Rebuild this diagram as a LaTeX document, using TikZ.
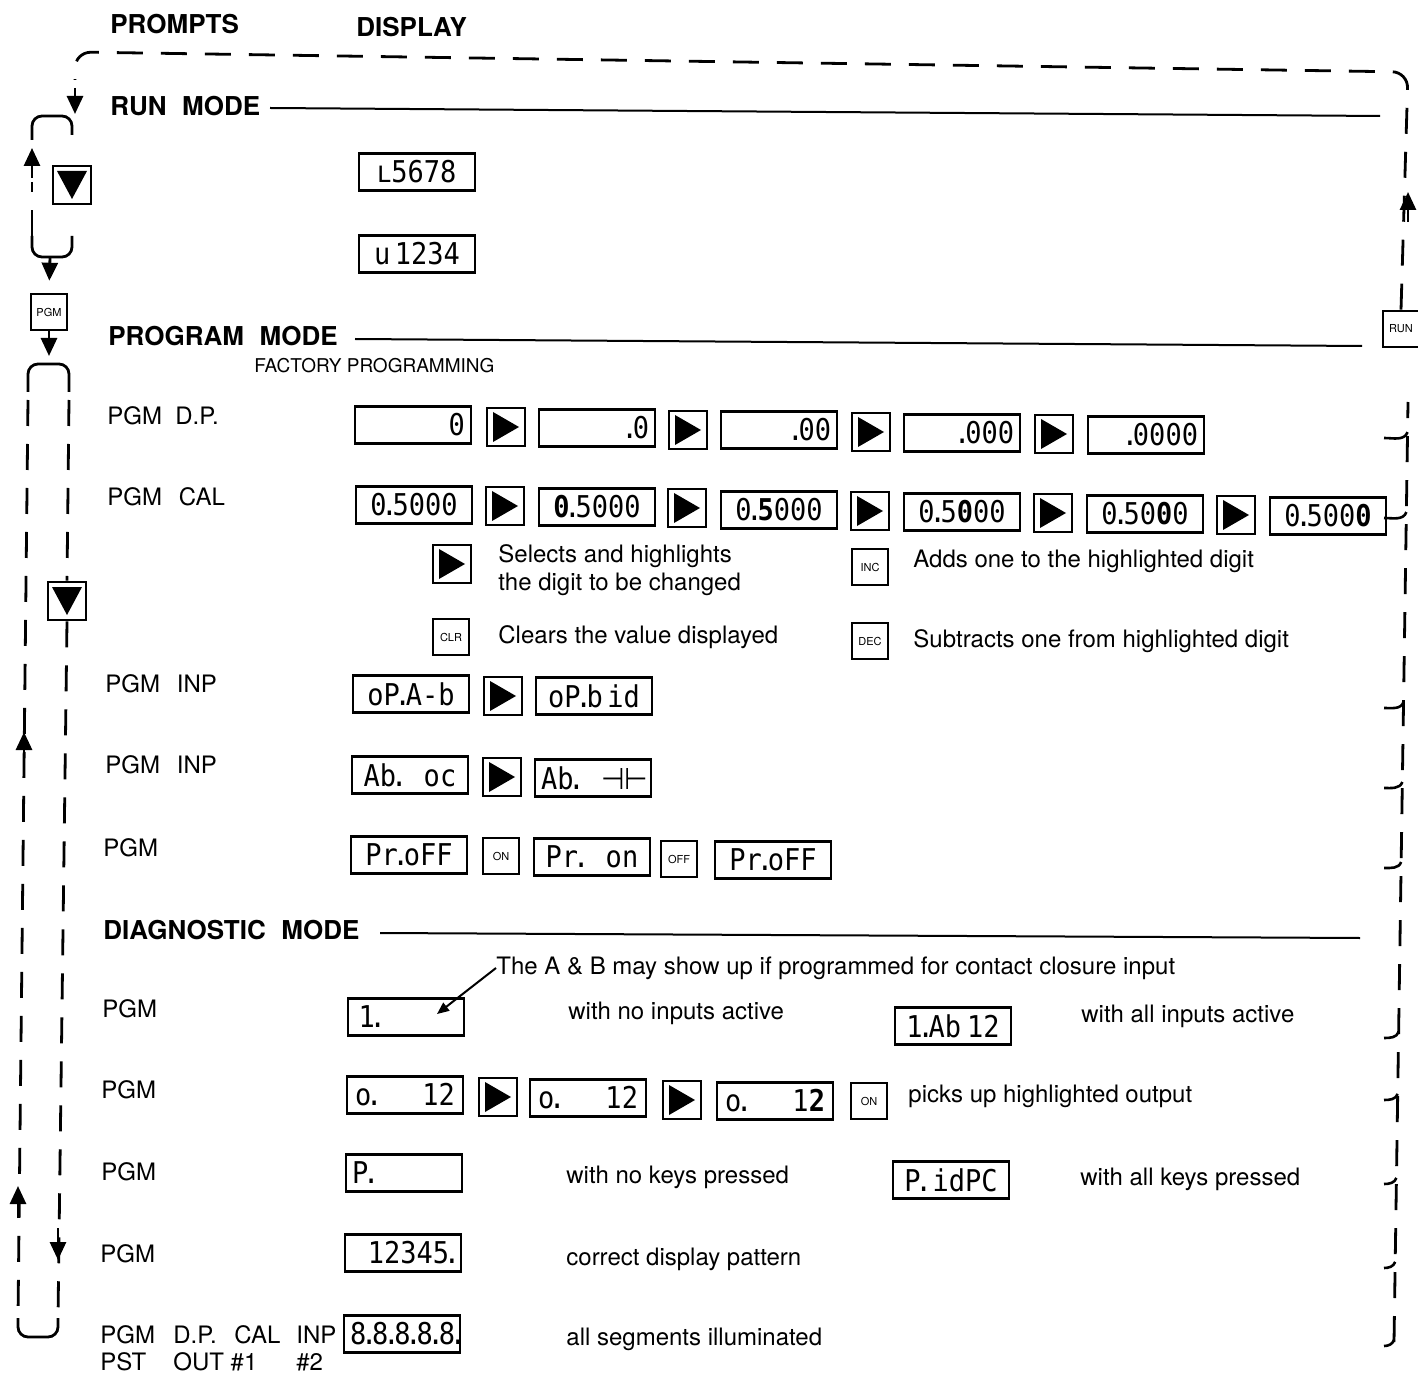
\documentclass[tikz,border=0pt]{standalone}
\usepackage{fontspec}
\setmainfont{TeX Gyre Heros}
\newfontfamily\dispfont{DejaVu Sans Mono}
\newfontfamily\glyphfont{DejaVu Sans}
\usetikzlibrary{arrows.meta,calc,positioning}

% display digits, highlighted digit, narrow decimal point
\newcommand\sd[1]{\scalebox{0.9}[1]{\dispfont\fontsize{15}{15}\selectfont #1}}
\newcommand\hl[1]{\textbf{#1}}
\newcommand\dd{\makebox[0.22em][c]{.}}
% key symbols
\newcommand\rtri{\tikz\fill (0pt,0pt) -- (0pt,15pt) -- (13pt,7.5pt) -- cycle;}
\newcommand\dtri{\tikz\fill (0pt,0pt) -- (15pt,0pt) -- (7.5pt,-14pt) -- cycle;}

\tikzset{
  disp/.style={draw, line width=1.4pt, minimum width=58pt, minimum height=18.5pt,
    inner sep=2pt, text width=52pt, align=center},
  keybox/.style={draw, line width=1.3pt, minimum size=19pt, inner sep=0pt},
  smallkey/.style={keybox, minimum size=18pt, font=\fontsize{5.5}{6}\selectfont},
  head/.style={anchor=west, inner sep=0pt, font=\fontsize{13}{15}\selectfont\bfseries},
  lbl/.style={anchor=west, inner sep=0pt, font=\fontsize{12}{14}\selectfont},
  note/.style={anchor=west, inner sep=0pt, font=\fontsize{12}{14}\selectfont, align=left},
  rule/.style={line width=1pt},
  flowline/.style={line width=1.4pt, dash pattern=on 13pt off 9pt},
  bracket/.style={line width=1.4pt, rounded corners=5pt},
  arr/.style={line width=1.4pt, -{Triangle[length=9pt,width=8pt]}},
  hook/.style={line width=1.3pt},
}

\begin{document}
\begin{tikzpicture}[x=0.5pt,y=-0.5pt]
\useasboundingbox (0,0) rectangle (1418,1379);

% titles and mode headings
\node[head] (prompts) at (110,24) {PROMPTS};
\node[head] (display) at (356,27) {DISPLAY};
\node[head] (runmode) at (110,106) {RUN\hspace{0.6em}MODE};
\draw[rule] (270,108) -- (1380,116);
\node[head] (pgmmode) at (108,336) {PROGRAM\hspace{0.6em}MODE};
\draw[rule] (355,339) -- (1362,346);
\node[anchor=west, inner sep=0pt, font=\fontsize{9.5}{11}\selectfont] (factory) at (254,366) {FACTORY PROGRAMMING};
\node[head] (diagmode) at (103,930) {DIAGNOSTIC\hspace{0.6em}MODE};
\draw[rule] (380,933) -- (1360,938);

% run mode
\node[disp] (dlow) at (417,172) {\sd{{\glyphfont ʟ}5678}};
\node[disp] (dhigh) at (417,254) {\sd{u\,1234}};

% program mode: decimal point
\node[lbl] (lbldp) at (107,416) {PGM\hspace{0.55em}D.P.};
\node[disp, align=right] (dp0) at (413,425) {\sd{0}};
\node[keybox] (dpk1) at (506,427) {\rtri};
\node[disp, align=right] (dp1) at (597,428) {\sd{\dd 0}};
\node[keybox] (dpk2) at (688,430) {\rtri};
\node[disp, align=right] (dp2) at (779,430) {\sd{\dd 00}};
\node[keybox] (dpk3) at (871,432) {\rtri};
\node[disp, align=right] (dp3) at (962,433) {\sd{\dd 000}};
\node[keybox] (dpk4) at (1054,434) {\rtri};
\node[disp, align=right] (dp4) at (1146,435) {\sd{\dd 0000}};

% program mode: calibration
\node[lbl] (lblcal) at (107,497) {PGM\hspace{0.7em}CAL};
\node[disp] (cal0) at (414,505) {\sd{0\dd 5000}};
\node[keybox] (calk1) at (505,506) {\rtri};
\node[disp] (cal1) at (597,507) {\sd{\hl{0}\dd 5000}};
\node[keybox] (calk2) at (687,508) {\rtri};
\node[disp] (cal2) at (779,510) {\sd{0\dd\hl{5}000}};
\node[keybox] (calk3) at (870,511) {\rtri};
\node[disp] (cal3) at (962,512) {\sd{0\dd 5\hl{0}00}};
\node[keybox] (calk4) at (1053,513) {\rtri};
\node[disp] (cal4) at (1145,514) {\sd{0\dd 50\hl{0}0}};
\node[keybox] (calk5) at (1236,515) {\rtri};
\node[disp] (cal5) at (1328,516) {\sd{0\dd 500\hl{0}}};

% key legend
\node[keybox] (legsel) at (452,564) {\rtri};
\node[note] (txtsel) at (498,570) {Selects and highlights\\the digit to be changed};
\node[smallkey] (leginc) at (870,567) {INC};
\node[note] (txtinc) at (913,561) {Adds one to the highlighted digit};
\node[smallkey] (legclr) at (451,637) {CLR};
\node[note] (txtclr) at (498,637) {Clears the value displayed};
\node[smallkey] (legdec) at (870,641) {DEC};
\node[note] (txtdec) at (913,641) {Subtracts one from highlighted digit};

% program mode: inputs
\node[lbl] (lblinp1) at (105,684) {PGM\hspace{0.7em}INP};
\node[disp] (inpa) at (411,694) {\sd{oP\dd A-b}};
\node[keybox] (inpk1) at (503,696) {\rtri};
\node[disp] (inpb) at (594,696) {\sd{oP\dd b\,id}};
\node[lbl] (lblinp2) at (105,765) {PGM\hspace{0.7em}INP};
\node[disp] (abo) at (410,775) {\sd{Ab\dd\hspace{0.8em}oc}};
\node[keybox] (inpk2) at (502,777) {\rtri};
\node[disp] (abc) at (593,778) {\sd{Ab\dd\hspace{0.8em}{\glyphfont ⊣⊢}}};

% program mode: protect
\node[lbl] (lblpr) at (103,848) {PGM};
\node[disp] (proff) at (409,855) {\sd{Pr\dd oFF}};
\node[smallkey] (onkey) at (501,856) {ON};
\node[disp] (pron) at (592,857) {\sd{Pr\dd\hspace{0.8em}on}};
\node[smallkey] (offkey) at (679,859) {OFF};
\node[disp] (proff2) at (773,860) {\sd{Pr\dd oFF}};

% diagnostic mode
\node[lbl] (lbld1) at (102,1009) {PGM};
\node[disp, align=left] (din) at (406,1017) {\sd{\,1\dd}};
\coordinate (dinpt) at (437,1014);
\node[note] (anote) at (496,968) {The A \& B may show up if programmed for contact closure input};
\draw[line width=1pt, -{Triangle[length=6pt,width=5pt]}] (anote.west) -- (dinpt);
\node[note] (txtnoin) at (568,1013) {with no inputs active};
\node[disp] (dall) at (953,1026) {\sd{1\dd Ab 12}};
\node[note] (txtallin) at (1081,1016) {with all inputs active};

\node[lbl] (lbld2) at (101,1090) {PGM};
\node[disp] (out1) at (405,1095) {\makebox[50pt]{\sd{o\dd}\hfill\sd{12}}};
\node[keybox] (outk1) at (498,1097) {\rtri};
\node[disp] (out2) at (588,1098) {\makebox[50pt]{\sd{o\dd}\hfill\sd{12}}};
\node[keybox] (outk2) at (682,1100) {\rtri};
\node[disp] (out3) at (775,1101) {\makebox[50pt]{\sd{o\dd}\hfill\sd{1\hl{2}}}};
\node[smallkey] (onkey2) at (869,1101) {ON};
\node[note] (txtpick) at (908,1096) {picks up highlighted output};

\node[lbl] (lbld3) at (101,1172) {PGM};
\node[disp, align=left] (keyno) at (404,1173) {\sd{P\dd}};
\node[note] (txtnokey) at (566,1177) {with no keys pressed};
\node[disp] (keyall) at (951,1180) {\sd{P\dd\ idPC}};
\node[note] (txtallkey) at (1080,1179) {with all keys pressed};

\node[lbl] (lbld4) at (100,1254) {PGM};
\node[disp, align=right] (pattern) at (403,1253) {\sd{12345\dd}};
\node[note] (txtpat) at (566,1259) {correct display pattern};

\node[lbl] (lblpgm) at (100,1335) {PGM};
\node[lbl] (lbldp2) at (173,1335) {D.P.};
\node[lbl] (lblcal2) at (234,1335) {CAL};
\node[lbl] (lblinp3) at (296,1335) {INP};
\node[lbl] (lblpst) at (100,1362) {PST};
\node[lbl] (lblout) at (173,1362) {OUT \#1};
\node[lbl] (lbltwo) at (296,1362) {\#2};
\node[disp] (segs) at (402,1334) {\sd{8\dd 8\dd 8\dd 8\dd 8\dd}};
\node[note] (txtsegs) at (566,1339) {all segments illuminated};

% prompt keys
\node[keybox] (dnrun) at (72,185) {\dtri};
\node[smallkey] (pgmkey) at (49,312) {PGM};
\node[keybox] (dnpgm) at (67,601) {\dtri};
\node[smallkey] (runkey) at (1401,329) {RUN};

% return path over the top
\draw[flowline, rounded corners=8pt] (runkey.north) -- (1408,72) -- (75,52) -- (75,80);
\draw[arr] (1408,222) -- (1408,192);
\draw[arr] (75,88) -- (75,114);

% run mode loop
\draw[bracket] (32,140) -- (32,116) -- (72,116) -- (72,135);
\draw[flowline] (32,236) -- (32,182);
\draw[arr] (32,178) -- (32,148);
\draw[bracket] (32,236) -- (32,257) -- (72,257) -- (72,236);
\coordinate (ubot) at (50,257);
\coordinate (capb) at (49,364);
\draw[arr, shorten >=6pt] (ubot) -- (pgmkey.north);
\draw[arr, shorten >=4pt] (pgmkey.south) -- (capb);

% program / diagnostic loop
\draw[bracket] (28,392) -- (28,364) -- (69,364) -- (69,392);
\draw[flowline] (28,400) -- (18,1318);
\draw[flowline] (69,400) -- (dnpgm.north);
\draw[flowline] (dnpgm.south) -- (58,1318);
\draw[arr] (24,764) -- (24,732);
\draw[arr] (18,1218) -- (18,1186);
\draw[arr] (58,1228) -- (58,1260);
\draw[bracket] (18,1318) -- (18,1337) -- (58,1337) -- (58,1318);

% exits to RUN
\coordinate (rtop) at (1408,402);
\coordinate (rbot) at (1394,1342);
\draw[flowline] (rbot) -- (rtop);
\foreach \hy in {438,518,708,788,868,1038,1100,1184,1268,1346}
  \draw[hook] (1384,\hy) to[out=0,in=-110] ($(rtop)!(1400,\hy-6)!(rbot)$);

\end{tikzpicture}
\end{document}
